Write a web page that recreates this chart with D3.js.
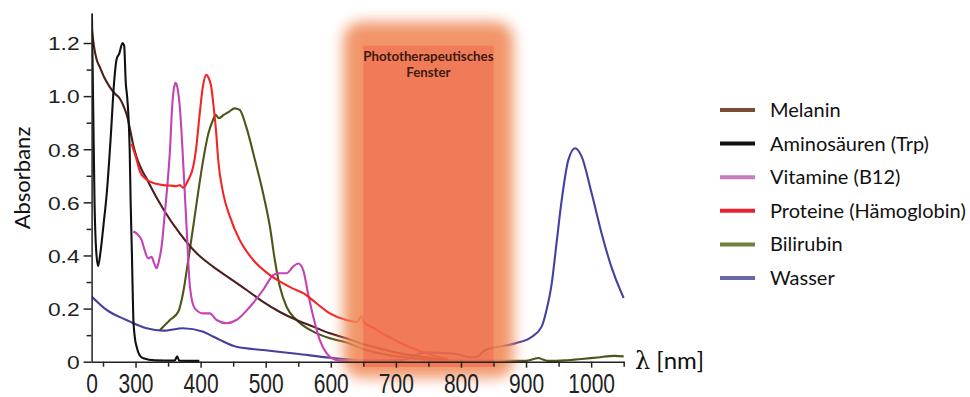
<!DOCTYPE html>
<html>
<head>
<meta charset="utf-8">
<script src="https://cdn.jsdelivr.net/npm/d3@7"></script>
<style>
body{margin:0;background:#fff}
svg{display:block}
</style>
</head>
<body>
<svg id="chart" width="970" height="397"></svg>
<script>
// absorbance spectra, [wavelength nm, absorbance]
var melanin = [[233,1.25],[236,1.19],[240,1.14],[245,1.11],[252,1.07],[260,1.036],[268,1.01],[276,0.99],[282,0.96],[287,0.925],[292,0.87],[297,0.81],[301.7,0.77],[310,0.72],[317,0.69],[322,0.665],[342.5,0.575],[368,0.483],[394,0.408],[419,0.358],[445,0.314],[470.7,0.27],[496,0.225],[521.8,0.187],[547.5,0.157],[573,0.132],[598.6,0.107],[624,0.088],[654,0.063],[680,0.047],[705,0.032],[730,0.022],[756,0.013],[780,0.006]]
var aminosaeuren = [[233,1.31],[235,0.95],[237,0.6],[239.5,0.42],[242.5,0.36],[246,0.41],[251,0.52],[256,0.64],[262,0.85],[267,1.05],[271,1.14],[275,1.16],[280,1.2],[282.5,1.19],[285,1.05],[287,1.0],[289,0.93],[291,0.8],[292.5,0.6],[294.5,0.4],[296.5,0.17],[299,0.09],[301.7,0.056],[306,0.025],[312,0.013],[330,0.005],[360,0.004],[364,0.02],[367,0.004],[398,0.003]]
var vitamine = [[296.5,0.49],[303,0.48],[309.4,0.458],[314,0.42],[319.5,0.389],[324.7,0.395],[328,0.375],[332.4,0.352],[336,0.38],[340,0.433],[345,0.559],[350,0.697],[353,0.8],[356,0.95],[359,1.03],[361.7,1.05],[364.5,1.03],[368,0.96],[371,0.85],[373,0.76],[378.4,0.508],[383.6,0.282],[391,0.201],[404,0.182],[414,0.182],[424.6,0.157],[440,0.145],[455,0.157],[475.8,0.207],[496,0.27],[511.5,0.326],[519,0.333],[532,0.333],[542,0.358],[550,0.37],[557.6,0.345],[565,0.258],[573,0.17],[583,0.082],[593.5,0.032],[609,0.006],[630,0.003],[653,0.003]]
var proteine = [[294,0.82],[300,0.775],[307,0.715],[315,0.69],[322,0.678],[332,0.67],[342.5,0.665],[355,0.663],[363,0.661],[368,0.665],[373,0.655],[377,0.665],[381,0.684],[388.6,0.734],[393,0.8],[398,0.92],[403.5,1.036],[408.7,1.08],[412,1.07],[416,1.04],[420,0.96],[424,0.86],[427,0.76],[434.7,0.634],[445,0.546],[460,0.458],[480.8,0.383],[506.5,0.326],[527,0.295],[542,0.275],[557.6,0.258],[578,0.22],[598.6,0.182],[624,0.157],[641,0.15],[647,0.172],[651,0.148],[665,0.128],[679,0.107],[700,0.08],[720,0.056],[746,0.032],[765,0.018],[780,0.01]]
var bilirubin = [[337.5,0.119],[352.8,0.157],[365.6,0.188],[373,0.258],[381,0.383],[388.6,0.508],[396,0.634],[404,0.76],[412,0.86],[419,0.91],[423,0.93],[428,0.917],[436,0.93],[444,0.942],[452,0.954],[460,0.948],[470,0.885],[483.4,0.76],[496,0.634],[506.5,0.508],[514,0.383],[521.8,0.282],[532,0.207],[547.5,0.157],[573,0.113],[598.6,0.088],[624,0.072],[654,0.044],[705,0.019],[756,0.006],[800,0.003],[900,0.003],[912,0.01],[919,0.014],[926,0.008],[934,0.003],[960,0.005],[985,0.01],[1010,0.016],[1036,0.022],[1050,0.02]]
var wasser = [[233,0.245],[255.6,0.195],[286,0.157],[291.4,0.151],[317,0.126],[342.5,0.117],[373,0.126],[404,0.113],[419,0.095],[429.6,0.082],[455,0.056],[496,0.044],[547.5,0.03],[598.6,0.015],[630,0.008],[653.7,0.004],[704.7,0.005],[720,0.012],[735,0.03],[745.6,0.034],[781,0.032],[800,0.025],[812,0.017],[822,0.017],[837.5,0.044],[858,0.056],[883.5,0.069],[909,0.094],[924,0.132],[932,0.2],[939.5,0.295],[947,0.45],[954.8,0.609],[965,0.76],[975.4,0.804],[985.5,0.772],[1000.8,0.634],[1016,0.484],[1031,0.358],[1046.7,0.258],[1050,0.24]]

var series_names = ["Melanin","Aminosäuren (Trp)","Vitamine (B12)","Proteine (Hämoglobin)","Bilirubin","Wasser"]
var series_data = [melanin, aminosaeuren, vitamine, proteine, bilirubin, wasser]
var line_colors = ["#4d1f1c","#111111","#c443b4","#f22626","#4f5418","#4540a0"]
var legend_colors = ["#7b4a33","#111111","#c77dbb","#e8222e","#6f7f3f","#6868a8"]
var draw_order = [5,4,0,2,3,1]

var x_ticks = [232.5,300,400,500,600,700,800,900,1000]
var x_minor = [250,350,450,550,650,750,850,950,1050]
var y_ticks = [0,0.2,0.4,0.6,0.8,1.0,1.2]
var y_minor = [0.1,0.3,0.5,0.7,0.9,1.1]
var window_nm = [650,850]
var window_label = ["Phototherapeutisches","Fenster"]

var svg = d3.select("#chart")

x = d3.scaleLinear().domain([232.5,1050.5]).range([91.6,624])
y = d3.scaleLinear().domain([0,1.313]).range([361.7,13])

// filter for the glow around the window
var defs = svg.append("defs")
defs.append("filter").attr("id","glow").attr("x","-30%").attr("y","-10%").attr("width","160%").attr("height","120%")
    .append("feGaussianBlur").attr("stdDeviation",7)
defs.append("clipPath").attr("id","plotclip").append("rect")
    .attr("x",x.range()[0]).attr("y",y.range()[1]).attr("width",x.range()[1]-x.range()[0]+2).attr("height",y.range()[0]-y.range()[1]+2)

// curves
line = d3.line().x(d => x(d[0])).y(d => y(d[1])).curve(d3.curveMonotoneX)
g_lines = svg.append("g").attr("clip-path","url(#plotclip)")
for(i of draw_order){
    g_lines.append("path")
        .attr("d",line(series_data[i]))
        .attr("fill","none")
        .attr("stroke",line_colors[i])
        .attr("stroke-width",2.1)
        .attr("stroke-linejoin","round")
}

// phototherapeutic window
g_win = svg.append("g").attr("opacity",0.9)
g_win.append("rect")
    .attr("x",x(window_nm[0])-20).attr("width",x(window_nm[1])-x(window_nm[0])+40)
    .attr("y",y(1.28)).attr("height",y(-0.06)-y(1.28))
    .attr("rx",18)
    .attr("fill","#f08a58")
    .attr("filter","url(#glow)")
g_win.append("rect")
    .attr("x",x(window_nm[0])).attr("width",x(window_nm[1])-x(window_nm[0]))
    .attr("y",y(1.19)).attr("height",y(-0.02)-y(1.19))
    .attr("fill","#f06c46")
svg.append("g").selectAll("text").data(window_label).enter().append("text")
    .attr("x",(x(window_nm[0])+x(window_nm[1]))/2)
    .attr("y",(d,i) => 61+i*16)
    .attr("text-anchor","middle")
    .style("font-family","Lato, 'Open Sans', sans-serif")
    .style("font-weight","bold")
    .style("font-size","13.3px")
    .attr("fill","#3b1a10")
    .text(d => d)

// axes
g_x = svg.append("g").attr("transform","translate(0,"+y(0)+")")
    .call(d3.axisBottom(x).tickValues(x_ticks).tickSize(6).tickSizeOuter(0)
        .tickFormat(d => d==x_ticks[0] ? "0" : d))
g_x.select(".domain").attr("stroke","#222").attr("stroke-width",1.5)
g_x.selectAll(".tick line").attr("stroke","#222").attr("stroke-width",1.5)
g_x.select(".tick line").remove()
g_x.selectAll(".tick text")
    .attr("y",0).attr("dy",0)
    .attr("transform","translate(0,31) scale(1,1.3)")
    .style("font-family","'Liberation Sans', Arial, sans-serif")
    .style("font-size","21px")
    .attr("fill","#222")
g_xm = svg.append("g").attr("transform","translate(0,"+y(0)+")")
    .call(d3.axisBottom(x).tickValues(x_minor).tickSize(5).tickFormat(""))
g_xm.select(".domain").remove()
g_xm.selectAll(".tick line").attr("stroke","#222").attr("stroke-width",1.5)

g_y = svg.append("g").attr("transform","translate("+x(x_ticks[0])+",0)")
    .call(d3.axisLeft(y).tickValues(y_ticks).tickSize(8).tickSizeOuter(0)
        .tickFormat(d => d==0 ? "0" : d.toFixed(1)))
g_y.select(".domain").attr("stroke","#222").attr("stroke-width",1.5)
g_y.selectAll(".tick line").attr("stroke","#222").attr("stroke-width",1.5)
g_y.selectAll(".tick text")
    .attr("x",0).attr("dy","0.36em")
    .attr("transform","translate(-12,0) scale(1.2,1)")
    .style("font-family","'Liberation Sans', Arial, sans-serif")
    .style("font-size","19px")
    .attr("fill","#222")
g_ym = svg.append("g").attr("transform","translate("+x(x_ticks[0])+",0)")
    .call(d3.axisLeft(y).tickValues(y_minor).tickSize(5).tickFormat(""))
g_ym.select(".domain").remove()
g_ym.selectAll(".tick line").attr("stroke","#222").attr("stroke-width",1.5)

// axis titles
svg.append("text")
    .attr("transform","translate(30,178) rotate(-90)")
    .attr("text-anchor","middle")
    .style("font-family","Lato, 'Open Sans', sans-serif")
    .style("font-size","22px")
    .attr("fill","#111")
    .text("Absorbanz")
t = svg.append("text")
    .attr("x",635).attr("y",369)
    .style("font-family","Lato, 'Open Sans', sans-serif")
    .style("font-size","24px")
    .attr("fill","#111")
t.append("tspan").style("font-family","'DejaVu Serif', serif").text("λ")
t.append("tspan").text(" [nm]")

// legend
g_leg = svg.append("g")
leg = g_leg.selectAll("g").data(series_names).enter().append("g")
    .attr("transform",(d,i) => "translate(720,"+(110+i*33.6)+")")
leg.append("line").attr("x1",0).attr("x2",35)
    .attr("stroke",(d,i) => legend_colors[i]).attr("stroke-width",4)
leg.append("text").attr("x",50).attr("dy","0.35em")
    .style("font-family","Lato, 'Open Sans', sans-serif")
    .style("font-size","20px")
    .attr("fill","#111")
    .text(d => d)
</script>
</body>
</html>
